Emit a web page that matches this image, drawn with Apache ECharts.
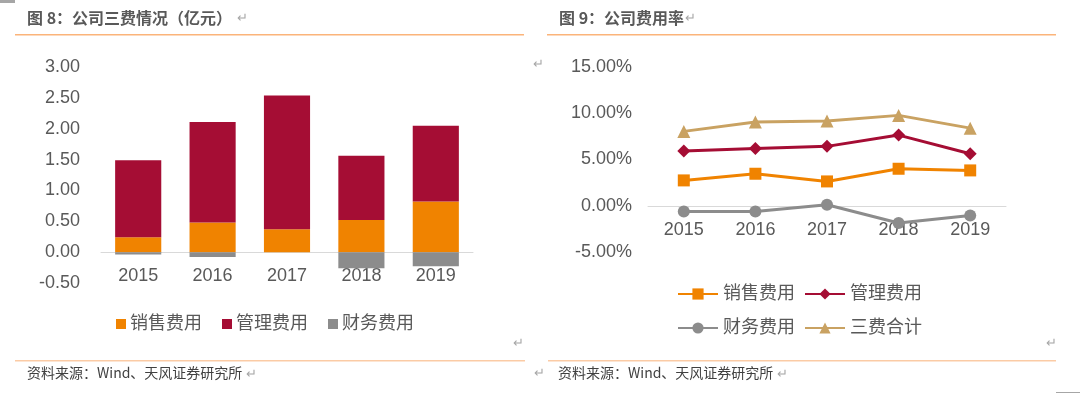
<!DOCTYPE html>
<html><head><meta charset="utf-8">
<script src="https://cdn.jsdelivr.net/npm/echarts@6/dist/echarts.min.js"></script>
<style>html,body{margin:0;padding:0;background:#fff}#c{width:1080px;height:395px}</style>
</head><body><div id="c"></div>
<script>
var years = ['2015','2016','2017','2018','2019'];
// 图8 公司三费情况（亿元）
var barSales = [0.24, 0.48, 0.37, 0.52, 0.82];
var barMgmt  = [1.25, 1.63, 2.17, 1.04, 1.23];
var barFin   = [-0.04, -0.08, 0.00, -0.26, -0.23];
// 图9 公司费用率 (%)
var rateSales = [2.74, 3.46, 2.63, 4.00, 3.82];
var rateMgmt  = [5.91, 6.20, 6.42, 7.64, 5.62];
var rateFin   = [-0.61, -0.61, 0.11, -1.87, -1.05];
var rateTotal = [8.04, 9.05, 9.16, 9.77, 8.39];
var leftTicks = {min: -0.5, max: 3, interval: 0.5};
var rightTicks = {min: -5, max: 15, interval: 5};

var C_OR = '#F08300', C_RD = '#A50D34', C_GY = '#8C8C8C', C_TN = '#C9A262';
var FF = '"Liberation Sans", Arial, "Noto Sans CJK SC", sans-serif';
var TXT = '#595959';
var chart = echarts.init(document.getElementById('c'), null, {renderer: 'canvas'});
function t(x, y, s, style) {
  return {type: 'text', left: x, top: y, style: Object.assign({text: s, fill: TXT, font: '14px ' + FF}, style || {})};
}
var arrowStyle = {fill: '#A6A6A6', font: '13px "Noto Sans CJK SC"'};
chart.setOption({
  animation: false,
  textStyle: {fontFamily: FF},
  grid: [
    {left: 101, right: 607, top: 67, bottom: 112},
    {left: 648, right: 74, top: 67, bottom: 143}
  ],
  xAxis: [
    {type: 'category', gridIndex: 0, data: years, axisLine: {onZero: true, lineStyle: {color: '#D9D9D9', width: 1}},
     axisTick: {show: false}, axisLabel: {color: TXT, fontSize: 18, margin: -16, fontFamily: FF}},
    {type: 'category', gridIndex: 1, data: years, boundaryGap: true, axisLine: {onZero: true, lineStyle: {color: '#D9D9D9', width: 1}},
     axisTick: {show: false}, axisLabel: {color: TXT, fontSize: 18, margin: -31, fontFamily: FF}, z: 1}
  ],
  yAxis: [
    {type: 'value', gridIndex: 0, min: leftTicks.min, max: leftTicks.max, interval: leftTicks.interval,
     splitLine: {show: false}, axisLine: {show: false}, axisTick: {show: false},
     axisLabel: {color: TXT, fontSize: 18, margin: 21, fontFamily: FF, formatter: function (v) { return v.toFixed(2); }}},
    {type: 'value', gridIndex: 1, min: rightTicks.min, max: rightTicks.max, interval: rightTicks.interval,
     splitLine: {show: false}, axisLine: {show: false}, axisTick: {show: false},
     axisLabel: {color: TXT, fontSize: 18, margin: 16, fontFamily: FF, formatter: function (v) { return v.toFixed(2) + '%'; }}}
  ],
  legend: [
    {left: 116, top: 315, padding: 0, itemWidth: 10, itemHeight: 10, itemGap: 20,
     textStyle: {color: TXT, fontSize: 18, fontFamily: FF, padding: [0, 0, 0, -1]},
     data: [{name: '销售费用', icon: 'rect'}, {name: '管理费用', icon: 'rect'}, {name: '财务费用', icon: 'rect'}]},
    {left: 677, top: 285, padding: 0, itemWidth: 40, itemHeight: 14, itemGap: 4,
     textStyle: {color: TXT, fontSize: 18, fontFamily: FF},
     data: ['销售费用 ', '管理费用 ']},
    {left: 677, top: 319, padding: 0, itemWidth: 40, itemHeight: 14, itemGap: 4,
     textStyle: {color: TXT, fontSize: 18, fontFamily: FF},
     data: ['财务费用 ', '三费合计']}
  ],
  series: [
    {name: '销售费用', type: 'bar', stack: 's', xAxisIndex: 0, yAxisIndex: 0, barWidth: '62%', data: barSales, itemStyle: {color: C_OR}},
    {name: '管理费用', type: 'bar', stack: 's', xAxisIndex: 0, yAxisIndex: 0, data: barMgmt, itemStyle: {color: C_RD}},
    {name: '财务费用', type: 'bar', stack: 's', xAxisIndex: 0, yAxisIndex: 0, data: barFin, itemStyle: {color: C_GY}},
    {name: '销售费用 ', type: 'line', xAxisIndex: 1, yAxisIndex: 1, data: rateSales, symbol: 'rect', symbolSize: 12,
     lineStyle: {color: C_OR, width: 3}, itemStyle: {color: C_OR}, z: 3},
    {name: '管理费用 ', type: 'line', xAxisIndex: 1, yAxisIndex: 1, data: rateMgmt, symbol: 'diamond', symbolSize: 13,
     lineStyle: {color: C_RD, width: 3}, itemStyle: {color: C_RD}, z: 3},
    {name: '财务费用 ', type: 'line', xAxisIndex: 1, yAxisIndex: 1, data: rateFin, symbol: 'circle', symbolSize: 12,
     lineStyle: {color: C_GY, width: 3}, itemStyle: {color: C_GY}, z: 3},
    {name: '三费合计', type: 'line', xAxisIndex: 1, yAxisIndex: 1, data: rateTotal, symbol: 'triangle', symbolSize: 13,
     lineStyle: {color: C_TN, width: 3}, itemStyle: {color: C_TN}, z: 3}
  ],
  graphic: [
    {type: 'rect', shape: {x: 0, y: 0, width: 15, height: 3}, style: {fill: '#A6A6A6'}},
    {type: 'rect', shape: {x: 1056, y: 392, width: 24, height: 1}, style: {fill: '#A6A6A6'}},
    t(27, 10, '图 8：公司三费情况（亿元）', {font: 'bold 16px "Noto Sans CJK SC"', fill: '#595959'}),
    t(237, 11, '↵', arrowStyle),
    t(559, 10, '图 9：公司费用率', {font: 'bold 16px "Noto Sans CJK SC"', fill: '#595959'}),
    t(685, 11, '↵', arrowStyle),
    {type: 'rect', shape: {x: 15, y: 34, width: 509, height: 1.5}, style: {fill: '#FBB47A'}},
    {type: 'rect', shape: {x: 547, y: 34, width: 509, height: 1.5}, style: {fill: '#FBB47A'}},
    t(533, 57, '↵', arrowStyle),
    t(513, 336, '↵', arrowStyle),
    t(1046, 336, '↵', arrowStyle),
    {type: 'rect', shape: {x: 15, y: 360, width: 510, height: 1.5}, style: {fill: '#FBCBA5'}},
    {type: 'rect', shape: {x: 548, y: 360, width: 508, height: 1.5}, style: {fill: '#FBCBA5'}},
    t(27, 366, '资料来源：Wind、天风证券研究所', {font: '14px "Noto Sans CJK SC"', fill: '#404040'}),
    t(246, 367, '↵', arrowStyle),
    t(534, 366, '↵', arrowStyle),
    t(558, 366, '资料来源：Wind、天风证券研究所', {font: '14px "Noto Sans CJK SC"', fill: '#404040'}),
    t(777, 367, '↵', arrowStyle)
  ]
});
</script></body></html>
